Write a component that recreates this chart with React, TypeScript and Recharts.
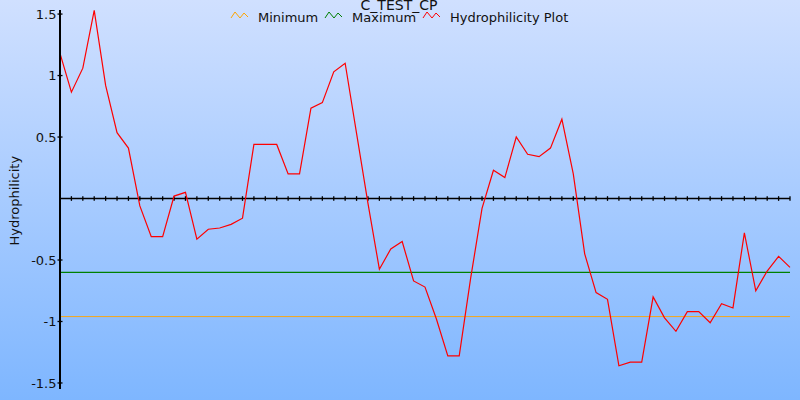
import { LineChart, Line, XAxis, YAxis, ReferenceLine } from "recharts";

const chartTitle = "C_TEST_CP";
const yLabel = "Hydrophilicity";
const seriesNames = ["Minimum", "Maximum", "Hydrophilicity Plot"];
const seriesColors = ["#ffa500", "#008000", "#ff0000"];

// hydrophilicity per window position
const hydrophilicity = [
  1.18, 0.865, 1.06, 1.53, 0.92, 0.535, 0.41, -0.06, -0.31, -0.31,
  0.02, 0.05, -0.33, -0.25, -0.24, -0.21, -0.16, 0.44, 0.44, 0.44,
  0.2, 0.2, 0.735, 0.78, 1.03, 1.1, 0.53, -0.04, -0.575, -0.41,
  -0.35, -0.67, -0.72, -0.98, -1.28, -1.28, -0.65, -0.08, 0.23, 0.17,
  0.5, 0.36, 0.34, 0.41, 0.645, 0.2, -0.45, -0.765, -0.82, -1.36,
  -1.33, -1.33, -0.8, -0.97, -1.08, -0.92, -0.92, -1.01, -0.855, -0.89,
  -0.28, -0.75, -0.59, -0.47, -0.56,
];
const minimumLevel = -0.96;
const maximumLevel = -0.6;
const yTicks = [-1.5, -1, -0.5, 0.5, 1, 1.5];

const data = hydrophilicity.map((value, pos) => ({ pos, value }));
const lastPos = data.length - 1;
const tickPositions = data.map((d) => d.pos).filter((p) => p > 0);

const font = "'DejaVu Sans', Verdana, sans-serif";

function YTick({ x, y, payload }: any) {
  return (
    <g>
      <line x1={x - 2.5} x2={x + 2.5} y1={y} y2={y} stroke="#000" strokeWidth={1.3} />
      <text x={x - 3.5} y={y} dy="0.36em" textAnchor="end" fontSize={13} fill="#111" fontFamily={font}>
        {payload.value}
      </text>
    </g>
  );
}

function Zigzag({ color }: { color: string }) {
  return <polyline points="0,6 4,0 9,6 13,1 17,5" fill="none" stroke={color} strokeWidth={1} />;
}

export default function App() {
  const legendX = [231, 325, 423];
  return (
    <div
      style={{
        position: "fixed",
        top: 0,
        left: 0,
        width: 800,
        height: 400,
        background: "linear-gradient(#d0e0ff, #7eb6ff)",
      }}
    >
      <LineChart
        width={800}
        height={400}
        data={data}
        margin={{ top: 10, right: 10, bottom: 11, left: 0 }}
        style={{ position: "absolute", top: 0, left: 0 }}
      >
        <XAxis dataKey="pos" type="number" domain={[0, lastPos]} hide />
        <YAxis
          width={60}
          domain={[-1.549, 1.533]}
          allowDataOverflow
          ticks={yTicks}
          interval={0}
          tickSize={0}
          tickMargin={0}
          tickLine={false}
          tick={<YTick />}
          axisLine={{ stroke: "#000", strokeWidth: 2 }}
        />
        <ReferenceLine y={0} stroke="#000" strokeWidth={1.7} />
        {tickPositions.map((p) => (
          <ReferenceLine
            key={p}
            segment={[
              { x: p, y: -0.019 },
              { x: p, y: 0.019 },
            ]}
            stroke="#000"
            strokeWidth={1.3}
          />
        ))}
        <ReferenceLine y={minimumLevel} stroke={seriesColors[0]} strokeWidth={0.9} />
        <ReferenceLine y={maximumLevel} stroke={seriesColors[1]} strokeWidth={1.2} />
        <Line
          type="linear"
          dataKey="value"
          stroke={seriesColors[2]}
          strokeWidth={1.2}
          dot={false}
          isAnimationActive={false}
        />
      </LineChart>
      <svg width={800} height={400} style={{ position: "absolute", top: 0, left: 0, pointerEvents: "none" }}>
        <text x={399} y={10} textAnchor="middle" fontSize={14} fill="#111" fontFamily={font}>
          {chartTitle}
        </text>
        {seriesNames.map((name, i) => (
          <g key={name}>
            <g transform={`translate(${legendX[i]},12)`}>
              <Zigzag color={seriesColors[i]} />
            </g>
            <text x={legendX[i] + 27} y={22} fontSize={13} fill="#111" fontFamily={font}>
              {name}
            </text>
          </g>
        ))}
        <text
          x={18.5}
          y={245.5}
          transform="rotate(-90 18.5 245.5)"
          textAnchor="start"
          fontSize={13}
          fill="#111"
          fontFamily={font}
        >
          {yLabel}
        </text>
      </svg>
    </div>
  );
}
